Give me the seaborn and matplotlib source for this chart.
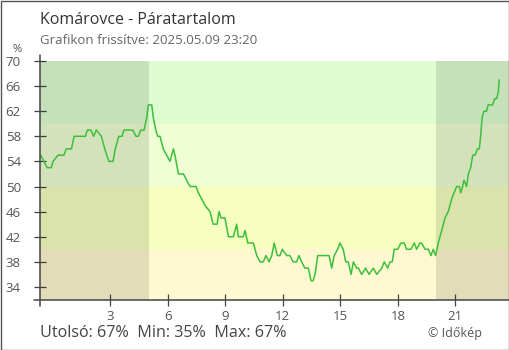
import matplotlib
matplotlib.use("Agg")
import matplotlib.pyplot as plt
import seaborn as sns
import pandas as pd
from matplotlib.lines import Line2D
from matplotlib.patches import Rectangle

# Relative humidity over the last 24 hours (decimal hour of day, %)
hours = [-0.63, -0.30, -0.08, 0.01, 0.27, 0.58, 0.70, 0.97, 1.11, 1.70,
         1.80, 1.98, 2.13, 2.27, 2.53, 2.71, 2.92, 3.14, 3.26, 3.44,
         3.61, 3.71, 4.17, 4.34, 4.46, 4.59, 4.76, 4.90, 4.98, 5.16,
         5.24, 5.37, 5.47, 5.59, 5.76, 5.94, 6.11, 6.29, 6.37, 6.55,
         6.81, 6.98, 7.16, 7.47, 7.59, 7.77, 7.94, 8.20, 8.37, 8.46,
         8.57, 8.67, 8.77, 8.98, 9.16, 9.42, 9.59, 9.68, 9.94, 10.03,
         10.17, 10.46, 10.64, 10.81, 10.98, 11.12, 11.28, 11.42, 11.55, 11.71,
         11.85, 11.97, 12.20, 12.37, 12.54, 12.72, 12.84, 12.98, 13.15, 13.33,
         13.47, 13.58, 13.68, 13.82, 14.41, 14.55, 14.68, 14.86, 14.98, 15.15,
         15.28, 15.41, 15.56, 15.68, 15.85, 15.94, 16.11, 16.32, 16.50, 16.72,
         16.90, 17.16, 17.29, 17.47, 17.59, 17.71, 17.81, 17.99, 18.16, 18.33,
         18.46, 18.68, 18.86, 18.98, 19.15, 19.24, 19.42, 19.59, 19.73, 19.85,
         19.97, 20.11, 20.29, 20.46, 20.63, 20.81, 20.93, 21.07, 21.21, 21.28,
         21.38, 21.45, 21.59, 21.68, 21.80, 21.91, 22.03, 22.15, 22.25, 22.32,
         22.40, 22.49, 22.63, 22.71, 22.94, 23.06, 23.15, 23.24, 23.29]
humidity = [55, 53, 53, 54, 55, 55, 56, 56, 58, 58,
            59, 59, 58, 59, 58, 56, 54, 54, 56, 58,
            58, 59, 59, 58, 58, 59, 59, 61, 63, 63,
            61, 59, 58, 58, 56, 55, 54, 56, 55, 52,
            52, 51, 50, 50, 49, 48, 47, 46, 44, 44,
            44, 46, 45, 45, 42, 42, 44, 42, 42, 43,
            41, 41, 39, 38, 38, 39, 38, 39, 41, 39,
            39, 40, 39, 39, 38, 38, 39, 38, 37, 37,
            35, 35, 36, 39, 39, 37, 39, 40, 41, 40,
            38, 38, 36, 38, 37, 37, 36, 37, 36, 37,
            36, 37, 38, 37, 38, 38, 40, 40, 41, 41,
            40, 40, 41, 40, 41, 41, 40, 40, 39, 40,
            39, 41, 43, 45, 46, 48, 49, 50, 50, 49,
            50, 51, 50, 52, 53, 55, 55, 56, 56, 58,
            61, 62, 62, 63, 63, 64, 64, 65, 67]

x_ticks = [3, 6, 9, 12, 15, 18, 21]
y_ticks = [34, 38, 42, 46, 50, 54, 58, 62, 66, 70]

# Humidity category bands (lower edge, upper edge, colour)
band_lo = [32, 40, 50, 60]
band_hi = [40, 50, 60, 70]
band_colors = ["#fff8d0", "#f6ffc0", "#effed3", "#ddfdd0"]

# Night periods (start hour, end hour)
night_start = [-0.67, 20.0]
night_end = [5.0, 23.80]

title = "Komárovce - Páratartalom"
subtitle = "Grafikon frissítve: 2025.05.09 23:20"
summary = f"Utolsó: {humidity[-1]}%  Min: {min(humidity)}%  Max: {max(humidity)}%"
credit = "© Időkép"

sns.set_theme(style="white")
plt.rcParams["font.family"] = ["Open Sans", "DejaVu Sans"]

W, H = 510, 350
fig = plt.figure(figsize=(W / 100, H / 100), dpi=100)
fig.patch.set_facecolor("white")
ax = fig.add_axes([40 / W, 1 - 299.5 / H, 469 / W, 238.5 / H])

for lo, hi, c in zip(band_lo, band_hi, band_colors):
    ax.axhspan(lo, hi, color=c, lw=0, zorder=0)
for s, e in zip(night_start, night_end):
    ax.axvspan(s, e, color="black", alpha=0.11, lw=0, zorder=1)

df = pd.DataFrame({"hour": hours, "humidity": humidity})
sns.lineplot(data=df, x="hour", y="humidity", ax=ax, color="#3cc03c",
             linewidth=1.1, zorder=3)

ax.set_xlim(-0.67, 23.80)
ax.set_ylim(32, 70)
ax.set_xticks(x_ticks)
ax.set_xticklabels([str(t) for t in x_ticks])
ax.set_yticks(y_ticks)
ax.set_yticklabels([str(t) for t in y_ticks])
ax.set_xlabel("")
ax.set_ylabel("")
for sp in ax.spines.values():
    sp.set_visible(False)

ax.tick_params(axis="both", direction="inout", length=8.6, width=0.9,
               color="#444444", labelcolor="#555555", labelsize=9.5)
ax.tick_params(axis="y", pad=9.5, left=True)
ax.tick_params(axis="x", pad=3, bottom=True)

# Axis lines reaching slightly past the plot corner
ax.add_line(Line2D([0, 0], [-0.027, 1.025], transform=ax.transAxes,
                   color="#444444", lw=1.1, clip_on=False, zorder=5))
ax.add_line(Line2D([-0.013, 1.01], [0, 0], transform=ax.transAxes,
                   color="#444444", lw=1.1, clip_on=False, zorder=5))

fig.text(40 / W, 1 - 20 / H, title, fontsize=11.5, color="#333333", va="center")
fig.text(40 / W, 1 - 40 / H, subtitle, fontsize=9.5, color="#666666", va="center")
fig.text(17 / W, 1 - 50 / H, "%", fontsize=8, color="#555555", ha="center", va="center")
fig.text(40 / W, 1 - 333 / H, summary, fontsize=11.6, color="#444444", va="center")
fig.text(482 / W, 1 - 333 / H, credit, fontsize=9, color="#555555", ha="right", va="center")

fig.patches.append(Rectangle((0.5 / W, 0.5 / H), 1 - 1 / W, 1 - 1 / H,
                             transform=fig.transFigure, fill=False,
                             edgecolor="#555555", lw=1, zorder=10))

fig.savefig("out.png", dpi=100)
